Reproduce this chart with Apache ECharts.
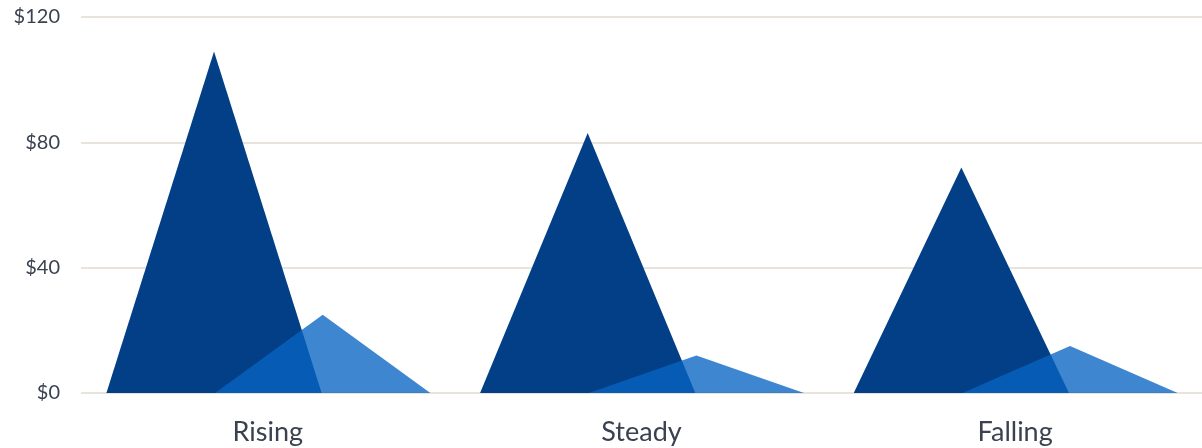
<!DOCTYPE html>
<html>
<head>
<meta charset="utf-8">
<script src="https://cdn.jsdelivr.net/npm/echarts@6/dist/echarts.min.js"></script>
<style>
  html, body { margin: 0; padding: 0; background: #fff; }
  #chart { width: 1202px; height: 448px; }
</style>
</head>
<body>
<div id="chart"></div>
<script>
var categories = ['Rising', 'Steady', 'Falling'];
var primaryValues = [109, 83, 72];
var secondaryValues = [25, 12, 15];
var yTicks = [0, 40, 80, 120];

var textColor = '#3a4250';

var chart = echarts.init(document.getElementById('chart'));
chart.setOption({
    animation: false,
    grid: {
        left: 81,
        right: 0,
        top: 17,
        bottom: 55
    },
    xAxis: {
        type: 'category',
        data: categories,
        axisLine: { show: false },
        axisTick: { show: false },
        axisLabel: {
            color: textColor,
            fontFamily: 'Lato',
            fontSize: 27,
            margin: 26
        }
    },
    yAxis: {
        type: 'value',
        min: yTicks[0],
        max: yTicks[yTicks.length - 1],
        interval: 40,
        axisLine: { show: false },
        axisTick: { show: false },
        splitLine: { lineStyle: { color: '#e8e4dc', width: 2 } },
        axisLabel: {
            color: textColor,
            fontFamily: 'Lato',
            fontSize: 20,
            margin: 21,
            formatter: function (v) { return '$' + v; }
        }
    },
    series: [
        {
            type: 'pictorialBar',
            symbol: 'triangle',
            barWidth: '57.6%',
            barGap: '-100%',
            symbolSize: ['100%', '100%'],
            symbolOffset: ['-25%', 0],
            itemStyle: { color: '#023f86' },
            data: primaryValues
        },
        {
            type: 'pictorialBar',
            symbol: 'triangle',
            barWidth: '57.6%',
            barGap: '-100%',
            symbolSize: ['100%', '100%'],
            symbolOffset: ['25.5%', 0],
            itemStyle: { color: 'rgba(8,100,195,0.78)' },
            data: secondaryValues
        }
    ]
});
</script>
</body>
</html>
